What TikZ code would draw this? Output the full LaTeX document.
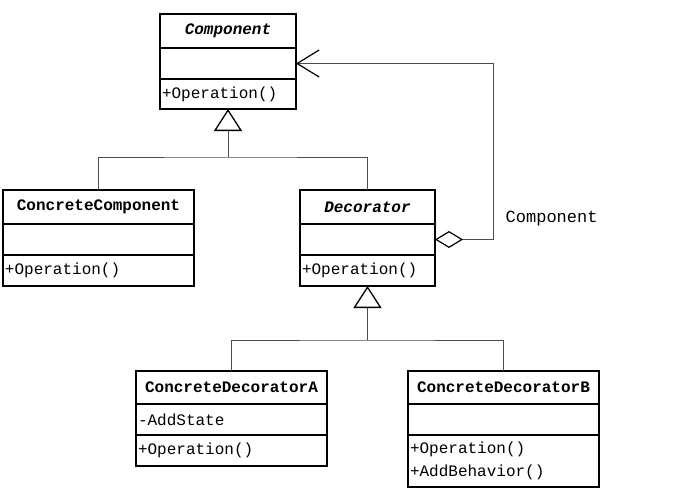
\documentclass[tikz,border=0pt]{standalone}
\usepackage{fontspec}
\setmainfont{Liberation Mono}
\usetikzlibrary{arrows.meta,positioning}
\tikzset{
uml/.style={x=1pt,y=-1pt,font=\fontsize{16}{23}\selectfont},
title/.style={draw,line width=1.4pt,outer sep=0pt,inner sep=0pt,
    minimum width=#1,minimum height=34pt,anchor=north,
    font=\fontsize{16}{23}\selectfont\bfseries},
row/.style={draw,line width=1.4pt,outer sep=0pt,inner xsep=2pt,
    inner ysep=0pt,text width=#1,minimum height=31pt,align=left},
link/.style={line width=0.8pt,draw=black!70},
gen/.style={link,-{Triangle[open,length=22pt,width=28pt,
    line width=1.3pt,color=black]}},
agg/.style={link,{Diamond[open,length=28pt,width=17pt,
    line width=1.2pt,color=black]}-{Straight Barb[length=22pt,
    width=27pt,line width=1.2pt,color=black]}},
}

\begin{document}
\begin{tikzpicture}[uml]
    \useasboundingbox (0,0) rectangle (689,491);

    % abstract component
    \node[title=136pt] (comp) at (228,14) {\itshape Component};
    \node[row=132pt,below=0pt of comp] (comp-a) {};
    \node[row=132pt,below=0pt of comp-a,minimum height=30pt] (comp-o) {+Operation()};

    % concrete component and decorator
    \node[title=191pt] (cc) at (98.5,190) {ConcreteComponent};
    \node[row=187pt,below=0pt of cc] (cc-a) {};
    \node[row=187pt,below=0pt of cc-a] (cc-o) {+Operation()};

    \node[title=135pt] (dec) at (367.5,190) {\itshape Decorator};
    \node[row=131pt,below=0pt of dec] (dec-a) {};
    \node[row=131pt,below=0pt of dec-a] (dec-o) {+Operation()};

    % concrete decorators
    \node[title=191pt,minimum height=33pt] (cda) at (231.5,371) {ConcreteDecoratorA};
    \node[row=187pt,below=0pt of cda] (cda-a) {-AddState};
    \node[row=187pt,below=0pt of cda-a] (cda-o) {+Operation()};

    \node[title=191pt,minimum height=33pt] (cdb) at (503.5,371) {ConcreteDecoratorB};
    \node[row=187pt,below=0pt of cdb] (cdb-a) {};
    \node[row=187pt,below=0pt of cdb-a,minimum height=52pt] (cdb-o) {+Operation()\\+AddBehavior()};

    \coordinate (j1) at (228,157);
    \coordinate (j2) at (367.5,340);
    \coordinate (bend) at (493,0);

    \draw[link] (cc.north) |- (j1) -| (dec.north);
    \draw[gen] (j1) -- (comp-o.south);
    \draw[link] (cda.north) |- (j2) -| (cdb.north);
    \draw[gen] (j2) -- (dec-o.south);
    \draw[agg] (dec-a.east) -- (dec-a.east -| bend)
        node[anchor=west,xshift=9pt,yshift=21pt,font=\fontsize{17}{20}\selectfont] (role) {Component}
        |- (comp-a.east);
\end{tikzpicture}
\end{document}
